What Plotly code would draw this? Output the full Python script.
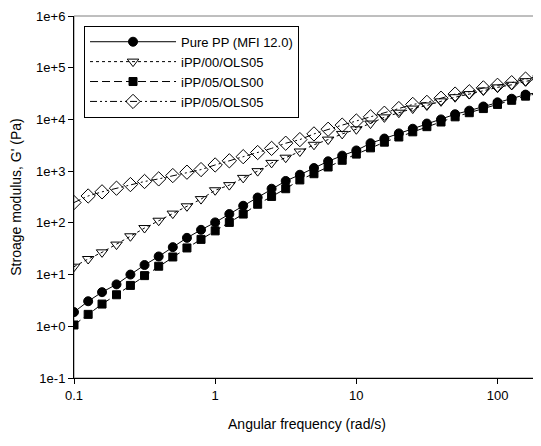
import plotly.graph_objects as go

freq = [0.1, 0.126, 0.158, 0.2, 0.251, 0.316, 0.398, 0.501, 0.631, 0.794,
        1.0, 1.26, 1.58, 2.0, 2.51, 3.16, 3.98, 5.01, 6.31, 7.94,
        10, 12.6, 15.8, 20, 25.1, 31.6, 39.8, 50.1, 63.1, 79.4,
        100, 126, 158, 199.5]

pure_pp = [1.88, 3.05, 4.57, 6.46, 10.0, 15.3, 22.4, 33.9, 51.3, 73.3,
           102, 148, 214, 309, 457, 646, 851, 1148, 1549, 1995,
           2512, 3467, 4266, 5370, 6607, 8318, 10000, 12589, 14791, 17783,
           21380, 25119, 30200, 33497]

ipp_00_ols05 = [14.2, 20.0, 26.9, 38.0, 55.0, 79.4, 110, 151, 209, 288,
                427, 537, 741, 1000, 1445, 1820, 2399, 3236, 4074, 5248,
                6457, 8318, 10965, 13490, 16218, 18621, 22387, 26915, 30903, 36308,
                41687, 46774, 54954, 63096]

ipp_05_ols00 = [1.06, 1.70, 2.69, 4.07, 6.17, 9.55, 14.5, 21.9, 32.7, 47.9,
                70.0, 102, 148, 229, 324, 457, 676, 891, 1202, 1622,
                2138, 2818, 3631, 4571, 5754, 7244, 8913, 11220, 13490, 16218,
                19498, 23442, 28184, 32359]

ipp_05_ols05 = [247, 331, 398, 468, 550, 631, 708, 822, 955, 1072,
                1318, 1585, 1905, 2291, 2754, 3467, 4074, 5248, 6457, 7762,
                9333, 11220, 13183, 16218, 19498, 21380, 25704, 30903, 34277, 40738,
                45709, 51286, 60256, 69183]

y_tickvals = [1e-1, 1e0, 1e1, 1e2, 1e3, 1e4, 1e5, 1e6]
y_ticktext = ["1e-1", "1e+0", "1e+1", "1e+2", "1e+3", "1e+4", "1e+5", "1e+6"]
x_tickvals = [0.1, 1, 10, 100]
x_ticktext = ["0.1", "1", "10", "100"]

FONT = "Arial, 'Liberation Sans', sans-serif"

series = [
    ("Pure PP (MFI 12.0)", pure_pp, "solid", "circle", "black", 9),
    ("iPP/00/OLS05", ipp_00_ols05, "dot", "triangle-down-open", "black", 10),
    ("iPP/05/OLS00", ipp_05_ols00, "8px,4px", "square", "black", 8),
    ("iPP/05/OLS05", ipp_05_ols05, "7px,3px,2px,3px,2px,3px", "diamond-open", "black", 11),
]

fig = go.Figure()
for name, vals, dash, sym, col, size in series:
    fig.add_trace(go.Scatter(
        x=freq, y=vals, name=name, mode="lines+markers",
        line=dict(color="black", width=1, dash=dash),
        marker=dict(symbol=sym, size=size, color=col,
                    line=dict(color="black", width=1)),
    ))

# plot frame (gray top/right)
fig.add_shape(type="rect", xref="paper", yref="paper", x0=0, y0=0, x1=1, y1=1,
              line=dict(color="#7f7f7f", width=1), layer="below")

fig.update_layout(
    width=533, height=438,
    margin=dict(l=66, r=1, t=3, b=68),
    paper_bgcolor="white", plot_bgcolor="white",
    font=dict(family=FONT, size=13, color="black"),
    showlegend=True,
    legend=dict(
        x=0.0215, y=0.973, xanchor="left", yanchor="top",
        bordercolor="black", borderwidth=1, bgcolor="white",
        font=dict(family=FONT, size=13, color="black"),
        itemwidth=86, tracegroupgap=0,
    ),
    xaxis=dict(
        type="log", range=[-1, 2.301],
        tickvals=x_tickvals, ticktext=x_ticktext,
        ticks="outside", ticklen=5, tickcolor="black", tickwidth=1,
        showline=True, linecolor="black", linewidth=1,
        showgrid=False, zeroline=False,
        title=dict(text="Angular frequency (rad/s)", font=dict(size=14), standoff=17),
        tickfont=dict(size=13), ticklabeloverflow="allow",
    ),
    yaxis=dict(
        type="log", range=[-1, 6],
        tickvals=y_tickvals, ticktext=y_ticktext,
        ticks="outside", ticklen=5, tickcolor="black", tickwidth=1,
        showline=True, linecolor="black", linewidth=1,
        showgrid=False, zeroline=False,
        title=dict(text="Stroage modulus, G' (Pa)", font=dict(size=14), standoff=14),
        tickfont=dict(size=13), ticklabeloverflow="allow",
    ),
)

fig.write_html("out.html")
